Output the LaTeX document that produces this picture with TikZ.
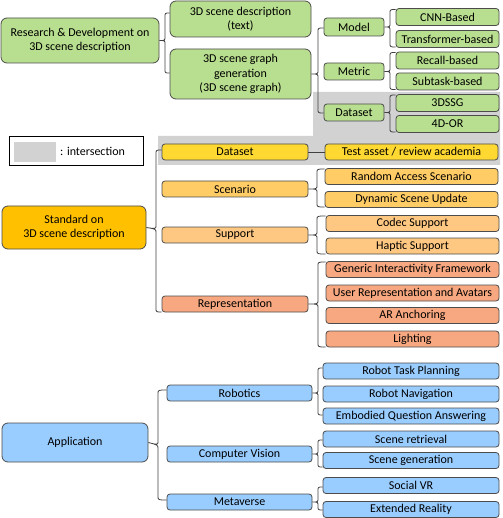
\documentclass[tikz,border=0pt]{standalone}
\usepackage{fontspec}
\setmainfont{Carlito}
\definecolor{grn}{RGB}{184,222,143}
\definecolor{stdc}{RGB}{255,192,0}
\definecolor{yel}{RGB}{255,217,50}
\definecolor{scn}{RGB}{255,204,102}
\definecolor{sup}{RGB}{255,200,130}
\definecolor{rep}{RGB}{248,168,128}
\definecolor{blu}{RGB}{153,204,255}
\definecolor{isec}{RGB}{210,210,210}
\newcommand\rr{4}
\newcommand\brc[7]{%
  \draw[bracel] (#2.west |- 0,#5) .. controls (#4,#5) .. (#4,{#5+\rr}) -- (#4,{#6-\rr}) .. controls (#4,#6) .. (#1.east)
     .. controls (#4,#6) .. (#4,{#6+\rr}) -- (#4,{#7-\rr}) .. controls (#4,#7) .. (#3.west |- 0,#7);}
\begin{document}
\begin{tikzpicture}[x=1pt,y=-1pt,
  box/.style={draw=black!70, line width=0.8pt, rounded corners=3pt, inner sep=0pt, align=center,
     font=\fontsize{12}{14.5}\selectfont, text=black},
  big/.style={box, rounded corners=6pt},
  bracel/.style={draw=black!75, line width=0.8pt}]
\useasboundingbox (0,0) rectangle (502,518);
% intersection area
\fill[isec] (313,92) -- (500,92) -- (500,165) -- (158,165) -- (158,136) -- (313,136) -- cycle;
% legend
\node[draw=black, line width=0.8pt, minimum width=134pt, minimum height=29pt, inner sep=0pt] (legend) at (76,150.5) {};
\node[fill=isec, minimum width=42pt, minimum height=20pt, inner sep=0pt] (lsq) at (35,152) {};
\node[anchor=west, inner sep=0pt, font=\fontsize{12}{14.5}\selectfont] (ltxt) at (60,151) {: intersection};
% ---------- R&D ----------
\node[big, fill=grn, minimum width=158pt, minimum height=45pt] (rd) at (80,40.5) {Research \& Development on\\3D scene description};
\node[big, fill=grn, minimum width=141pt, minimum height=36pt] (txt) at (240.5,19) {3D scene description\\(text)};
\node[big, fill=grn, minimum width=141pt, minimum height=50pt] (sg) at (240.5,74) {3D scene graph\\generation\\(3D scene graph)};
\node[box, fill=grn, minimum width=60pt, minimum height=18pt] (model) at (354,27) {Model};
\node[box, fill=grn, minimum width=60pt, minimum height=17pt] (metric) at (354,71.5) {Metric};
\node[box, fill=grn, minimum width=60pt, minimum height=17pt] (dsg) at (354,112.5) {Dataset};
\node[box, fill=grn, minimum width=103pt, minimum height=17pt] (cnn) at (447.5,17) {CNN-Based};
\node[box, fill=grn, minimum width=103pt, minimum height=17pt] (trans) at (447.5,39) {Transformer-based};
\node[box, fill=grn, minimum width=103pt, minimum height=17pt] (recall) at (447.5,60.5) {Recall-based};
\node[box, fill=grn, minimum width=103pt, minimum height=17pt] (subtask) at (447.5,81.5) {Subtask-based};
\node[box, fill=grn, minimum width=103pt, minimum height=17pt] (dssg) at (447.5,103) {3DSSG};
\node[box, fill=grn, minimum width=103pt, minimum height=17pt] (dor) at (447.5,124) {4D-OR};
\brc{rd}{txt}{sg}{165}{13}{40.5}{73}
\brc{sg}{model}{dsg}{318}{28}{74}{113}
\brc{model}{cnn}{trans}{390}{9.5}{27}{47}
\brc{metric}{recall}{subtask}{390}{52.5}{71.5}{89.5}
\brc{dsg}{dssg}{dor}{390}{95}{112.5}{132}
% ---------- Standard ----------
\node[big, fill=stdc, minimum width=144pt, minimum height=43pt] (std) at (74,227.5) {Standard on\\3D scene description};
\node[box, fill=yel, minimum width=146pt, minimum height=16pt] (dss) at (235,152) {Dataset};
\node[box, fill=scn, minimum width=146pt, minimum height=16pt] (scen) at (235,189) {Scenario};
\node[box, fill=sup, minimum width=146pt, minimum height=16pt] (supp) at (235,235) {Support};
\node[box, fill=rep, minimum width=146pt, minimum height=16pt] (repr) at (235,304) {Representation};
\node[box, fill=yel, minimum width=173pt, minimum height=16pt] (test) at (411.5,152) {Test asset / review academia};
\node[box, fill=scn, minimum width=173pt, minimum height=16pt] (rand) at (411.5,176.5) {Random Access Scenario};
\node[box, fill=scn, minimum width=173pt, minimum height=16pt] (dyn) at (411.5,199.5) {Dynamic Scene Update};
\node[box, fill=sup, minimum width=173pt, minimum height=16pt] (codec) at (412.5,223.5) {Codec Support};
\node[box, fill=sup, minimum width=173pt, minimum height=16pt] (hapt) at (412.5,246) {Haptic Support};
\node[box, fill=rep, minimum width=173pt, minimum height=16pt] (gen) at (412.5,269.5) {Generic Interactivity Framework};
\node[box, fill=rep, minimum width=173pt, minimum height=16pt] (user) at (412.5,293) {User Representation and Avatars};
\node[box, fill=rep, minimum width=173pt, minimum height=16pt] (ar) at (412.5,315.5) {AR Anchoring};
\node[box, fill=rep, minimum width=173pt, minimum height=16pt] (light) at (412.5,339) {Lighting};
\brc{std}{dss}{repr}{156}{150}{229}{312}
\draw[bracel] (dss.east) -- (test.west);
\brc{scen}{rand}{dyn}{317}{169}{189}{207}
\brc{supp}{codec}{hapt}{317}{216}{235}{254}
\brc{repr}{gen}{light}{318}{262}{304}{347}
% ---------- Application ----------
\node[big, fill=blu, minimum width=146pt, minimum height=39pt] (app) at (75,442.5) {Application};
\node[box, fill=blu, minimum width=145pt, minimum height=16pt] (rob) at (239.5,393) {Robotics};
\node[box, fill=blu, minimum width=145pt, minimum height=16pt] (cv) at (239.5,454) {Computer Vision};
\node[box, fill=blu, minimum width=145pt, minimum height=16pt] (meta) at (239.5,502) {Metaverse};
\node[box, fill=blu, minimum width=176pt, minimum height=16pt] (rtp) at (411,371) {Robot Task Planning};
\node[box, fill=blu, minimum width=176pt, minimum height=16pt] (rn) at (411,394) {Robot Navigation};
\node[box, fill=blu, minimum width=176pt, minimum height=16pt] (eqa) at (411,416) {Embodied Question Answering};
\node[box, fill=blu, minimum width=176pt, minimum height=16pt] (sr) at (411,439) {Scene retrieval};
\node[box, fill=blu, minimum width=176pt, minimum height=16pt] (sgen) at (411,460.5) {Scene generation};
\node[box, fill=blu, minimum width=176pt, minimum height=16pt] (svr) at (411,485.5) {Social VR};
\node[box, fill=blu, minimum width=176pt, minimum height=16pt] (xr) at (411,509.5) {Extended Reality};
\brc{app}{rob}{meta}{158}{390}{445}{500}
\brc{rob}{rtp}{eqa}{318}{368}{393}{415}
\brc{cv}{sr}{sgen}{318}{440}{454}{467}
\brc{meta}{svr}{xr}{318}{487}{502}{510}
\end{tikzpicture}
\end{document}
